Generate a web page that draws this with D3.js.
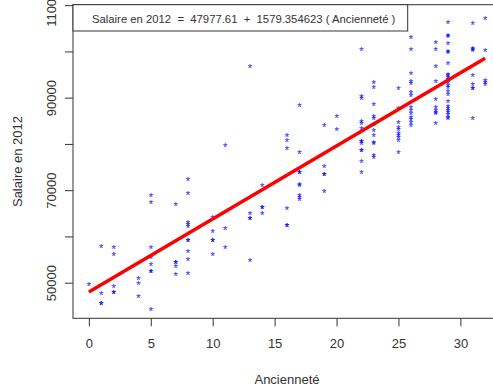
<!DOCTYPE html>
<html>
<head>
<meta charset="utf-8">
<script src="https://cdn.jsdelivr.net/npm/d3@7"></script>
<style>
  body { margin: 0; background: #fff; }
  svg text { font-family: "Liberation Sans", Arial, sans-serif; fill: #333; }
</style>
</head>
<body>
<div id="chart"></div>
<script>
// Ancienneté (years) and salary in 2012
const anciennete = [
  0,
  1, 1, 1, 1,
  2, 2, 2, 2, 2,
  4, 4, 4,
  5, 5, 5, 5, 5, 5, 5, 5,
  7, 7, 7, 7, 7,
  8, 8, 8, 8, 8, 8, 8, 8, 8, 8,
  10, 10, 10, 10, 10,
  11, 11, 11,
  13, 13, 13, 13, 13,
  14, 14, 14, 14,
  16, 16, 16, 16, 16, 16,
  17, 17, 17, 17, 17, 17, 17, 17, 17,
  19, 19, 19, 19, 19,
  20, 20,
  22, 22, 22, 22, 22, 22, 22, 22, 22, 22, 22, 22, 22,
  23, 23, 23, 23, 23, 23, 23, 23, 23, 23, 23, 23,
  25, 25, 25, 25, 25, 25, 25, 25, 25, 25,
  26, 26, 26, 26, 26, 26, 26, 26, 26, 26, 26, 26, 26, 26,
  28, 28, 28, 28, 28, 28, 28, 28, 28, 28,
  29, 29, 29, 29, 29, 29, 29, 29, 29, 29, 29, 29, 29, 29, 29, 29, 29, 29, 29, 29, 29, 29, 29, 29,
  31, 31, 31, 31, 31, 31, 31, 31, 31,
  32, 32, 32, 32, 32
];
const salaire = [
  50000,
  58200, 48000, 45700, 45700,
  57900, 56400, 49500, 48100, 48100,
  51100, 50200, 47200,
  69200, 67700, 57900, 55800, 54300, 52600, 52600, 44400,
  67100, 54700, 54700, 53800, 52100,
  72600, 69500, 63200, 62800, 62400, 59500, 59500, 57100, 55200, 52300,
  64400, 61400, 59500, 59500, 56400,
  80000, 61900, 57900,
  97100, 65300, 64100, 64100, 55000,
  71300, 66600, 66600, 65300,
  82000, 81100, 79400, 66400, 62600, 62600,
  88700, 78500, 74100, 74100, 71600, 71200, 69100, 68800, 68200,
  84200, 75500, 73600, 73600, 70000,
  86300, 83400,
  100800, 90600, 90200, 85100, 84700, 83700, 80900, 80900, 80300, 78900, 78900, 76400, 74200,
  93600, 92400, 88900, 86300, 85700, 84500, 83200, 82000, 80500, 80300, 77800, 77400,
  92300, 87900, 85000, 83900, 83400, 82600, 82100, 81700, 81000, 78400,
  103400, 100700, 95600, 93800, 93400, 91500, 90800, 88200, 87500, 86800, 86100, 85500, 85000, 84200,
  102200, 100600, 97100, 93800, 89800, 88200, 87600, 87100, 86800, 84600,
  106600, 103800, 103500, 101900, 100300, 100100, 97600, 95400, 95100, 94700, 94200, 93600,
  93000, 92400, 91700, 90900, 89500, 88400, 88000, 87600, 87100, 86600, 86100, 85700,
  106300, 101000, 100700, 100400, 95000, 93200, 92200, 92200, 85800,
  107300, 100500, 94000, 93600, 93200
];
const intercept = 47977.61;
const slope = 1579.354623;
const xTicks = [0, 5, 10, 15, 20, 25, 30];
const yTicks = [50000, 60000, 70000, 80000, 90000, 100000, 110000];
const yLabelled = [50000, 70000, 90000, 110000];
const legendText = "Salaire en 2012  =  47977.61  +  1579.354623 ( Ancienneté )";

const W = 493, H = 391;
const plot = { left: 73, top: 4.7, right: 501, bottom: 318.3 };

const svg = d3.select("#chart").append("svg")
  .attr("width", W)
  .attr("height", H);

const x = d3.scaleLinear().domain([-1.28, 33.28]).range([plot.left, plot.right]);
const y = d3.scaleLinear().domain([42300, 110100]).range([plot.bottom, plot.top]);

// axes
const xAxis = svg.append("g")
  .attr("transform", "translate(0," + plot.bottom + ")")
  .call(d3.axisBottom(x).tickValues(xTicks).tickSize(8).tickPadding(12));
xAxis.select(".domain").remove();
xAxis.selectAll("line").attr("stroke", "#333");
xAxis.selectAll("text").attr("font-size", 13).attr("fill", "#333");

const yAxis = svg.append("g")
  .attr("transform", "translate(" + plot.left + ",0)")
  .call(d3.axisLeft(y).tickValues(yTicks).tickSize(8)
    .tickFormat(d => yLabelled.includes(d) ? d : ""));
yAxis.select(".domain").remove();
yAxis.selectAll("line").attr("stroke", "#333");
yAxis.selectAll("text")
  .attr("font-size", 13)
  .attr("fill", "#333")
  .attr("text-anchor", "middle")
  .attr("x", 0).attr("dy", 0)
  .attr("transform", "translate(-17.5,0) rotate(-90)");

// points (pch = "*")
svg.append("g")
  .selectAll("text")
  .data(d3.range(anciennete.length))
  .join("text")
  .attr("x", i => x(anciennete[i]))
  .attr("y", i => y(salaire[i]))
  .attr("dy", "0.62em")
  .attr("text-anchor", "middle")
  .attr("font-size", 11)
  .style("fill", "blue")
  .style("fill-opacity", 0.75)
  .style("stroke", "blue")
  .style("stroke-opacity", 0.3)
  .style("stroke-width", 0.4)
  .text("*");

// regression line
svg.append("line")
  .attr("x1", x(0)).attr("y1", y(intercept))
  .attr("x2", x(32)).attr("y2", y(intercept + slope * 32))
  .attr("stroke", "red")
  .attr("stroke-width", 3.5);

// box
svg.append("rect")
  .attr("x", plot.left).attr("y", plot.top)
  .attr("width", plot.right - plot.left)
  .attr("height", plot.bottom - plot.top)
  .attr("fill", "none")
  .attr("stroke", "#333");

// legend
svg.append("rect")
  .attr("x", plot.left).attr("y", plot.top)
  .attr("width", 334.7).attr("height", 26.3)
  .attr("fill", "white")
  .attr("stroke", "#333");
svg.append("text")
  .attr("x", 92).attr("y", 22.5)
  .attr("font-size", 11.3)
  .style("white-space", "pre")
  .text(legendText);

// titles
svg.append("text")
  .attr("x", (plot.left + plot.right) / 2).attr("y", 384)
  .attr("text-anchor", "middle")
  .attr("font-size", 13)
  .text("Ancienneté");
svg.append("text")
  .attr("transform", "translate(22," + (plot.top + plot.bottom) / 2 + ") rotate(-90)")
  .attr("text-anchor", "middle")
  .attr("font-size", 13)
  .text("Salaire en 2012");
</script>
</body>
</html>
